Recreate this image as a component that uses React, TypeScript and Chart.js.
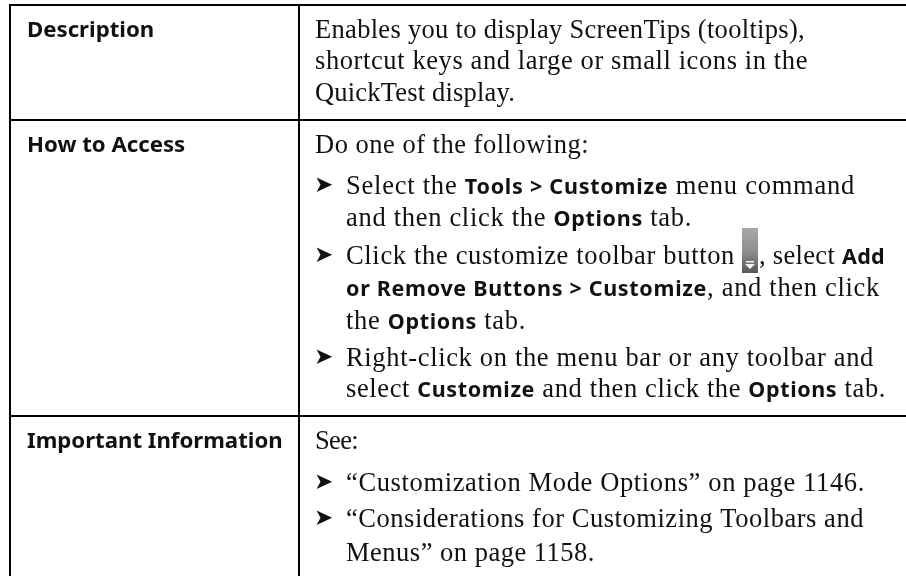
import React, { useEffect, useRef } from "react";
import { Chart, registerables } from "chart.js";

Chart.register(...registerables);

// ---- content -------------------------------------------------------------
type Run = { t: string; b?: boolean };

const rowHeadings = ["Description", "How to Access", "Important Information"];

const bodyLines: Run[][] = [
  [{ t: "Enables you to display ScreenTips (tooltips)," }],
  [{ t: "shortcut keys and large or small icons in the" }],
  [{ t: "QuickTest display." }],
  [{ t: "Do one of the following:" }],
  [{ t: "Select the " }, { t: "Tools > Customize", b: true }, { t: " menu command" }],
  [{ t: "and then click the " }, { t: "Options", b: true }, { t: " tab." }],
  [{ t: "Click the customize toolbar button" }],
  [{ t: ", select " }, { t: "Add", b: true }],
  [{ t: "or Remove Buttons > Customize", b: true }, { t: ", and then click" }],
  [{ t: "the " }, { t: "Options", b: true }, { t: " tab." }],
  [{ t: "Right-click on the menu bar or any toolbar and" }],
  [{ t: "select " }, { t: "Customize", b: true }, { t: " and then click the " }, { t: "Options", b: true }, { t: " tab." }],
  [{ t: "See:" }],
  [{ t: "“Customization Mode Options” on page 1146." }],
  [{ t: "“Considerations for Customizing Toolbars and" }],
  [{ t: "Menus” on page 1158." }],
];

const bulletMark = "➤";

// ---- layout (scale units equal page pixels) -------------------------------
const headingX = 27;
const headingBaselines = [37, 152, 448];

const lineX = [315, 315, 315, 315, 346, 346, 346, 759, 346, 346, 346, 346, 315, 346, 346, 346];
const lineRight = [805, 808, 515, 589, 855, 692, 735, 885, 880, 526, 874, 886, 358, 865, 864, 595];
const lineBaseline = [38, 69, 101, 153, 194, 226, 264, 264, 296, 329, 366, 397, 449, 491, 527, 561];
const bulletBaselines = [194, 264, 366, 491, 527];

const ruleVertical = [10, 299];
const ruleHorizontal = [5, 120, 416];
const pageW = 906;
const pageH = 576;
const tableTop = 4;

const serifFont = '26.5px "Liberation Serif"';
const boldFont = 'bold 21.5px "Noto Sans"';
const headingFont = 'bold 22.2px "Noto Sans"';
const inkColor = "#111111";

const fontFor = (r: Run) => (r.b ? boldFont : serifFont);

const tablePlugin = {
  id: "tableText",
  afterDraw(chart: any) {
    const { ctx } = chart;
    const sx = chart.scales.x;
    const sy = chart.scales.y;
    ctx.save();
    ctx.fillStyle = inkColor;
    ctx.textBaseline = "alphabetic";
    ctx.textAlign = "left";

    ctx.font = headingFont;
    rowHeadings.forEach((h, i) => {
      ctx.fillText(h, sx.getPixelForValue(headingX), sy.getPixelForValue(headingBaselines[i]));
    });

    bodyLines.forEach((runs, i) => {
      (ctx as any).letterSpacing = "0px";
      let natural = 0;
      let chars = 0;
      runs.forEach((r) => {
        ctx.font = fontFor(r);
        natural += ctx.measureText(r.t).width;
        chars += r.t.length;
      });
      const target = lineRight[i] - lineX[i];
      const spacing = (target - natural) / Math.max(1, chars);
      (ctx as any).letterSpacing = `${spacing}px`;
      let x = sx.getPixelForValue(lineX[i]);
      const y = sy.getPixelForValue(lineBaseline[i]);
      runs.forEach((r) => {
        ctx.font = fontFor(r);
        ctx.fillText(r.t, x, y);
        x += ctx.measureText(r.t).width;
      });
    });
    (ctx as any).letterSpacing = "0px";

    ctx.font = '23px "DejaVu Sans"';
    bulletBaselines.forEach((b) => {
      ctx.fillText(bulletMark, sx.getPixelForValue(314), sy.getPixelForValue(b - 2));
    });

    // toolbar button icon
    const ix = sx.getPixelForValue(742);
    const iy = sy.getPixelForValue(228);
    const iw = 16;
    const ih = 45;
    const g = ctx.createLinearGradient(0, iy, 0, iy + ih);
    g.addColorStop(0, "#a9a9ad");
    g.addColorStop(0.55, "#8c8c90");
    g.addColorStop(1, "#57575a");
    ctx.fillStyle = g;
    ctx.fillRect(ix, iy, iw, ih);
    ctx.fillStyle = "#f4f4f4";
    ctx.fillRect(ix + 4, iy + 33, 8, 1.5);
    ctx.beginPath();
    ctx.moveTo(ix + 3, iy + 36);
    ctx.lineTo(ix + 13, iy + 36);
    ctx.lineTo(ix + 8, iy + 41);
    ctx.closePath();
    ctx.fill();
    ctx.restore();
  },
};

export default function App() {
  const ref = useRef<HTMLCanvasElement>(null);
  useEffect(() => {
    document.body.style.margin = "0";
    document.body.style.background = "#ffffff";
    const rule = (data: { x: number; y: number }[]) => ({
      data,
      showLine: true,
      borderColor: "#000000",
      borderWidth: 2,
      pointRadius: 0,
      borderCapStyle: "butt" as const,
    });
    const chart = new Chart(ref.current!, {
      type: "scatter",
      data: {
        datasets: [
          ...ruleVertical.map((x) => rule([{ x, y: tableTop }, { x, y: pageH }])),
          ...ruleHorizontal.map((y) => rule([{ x: ruleVertical[0] - 1, y }, { x: pageW, y }])),
        ],
      },
      options: {
        animation: false,
        responsive: false,
        layout: { padding: 0 },
        plugins: { legend: { display: false }, tooltip: { enabled: false } },
        scales: {
          x: { type: "linear", display: false, min: 0, max: pageW },
          y: { type: "linear", display: false, min: 0, max: pageH, reverse: true },
        },
      },
      plugins: [tablePlugin],
    });
    return () => chart.destroy();
  }, []);
  return <canvas ref={ref} width={pageW} height={pageH} style={{ display: "block" }} />;
}
